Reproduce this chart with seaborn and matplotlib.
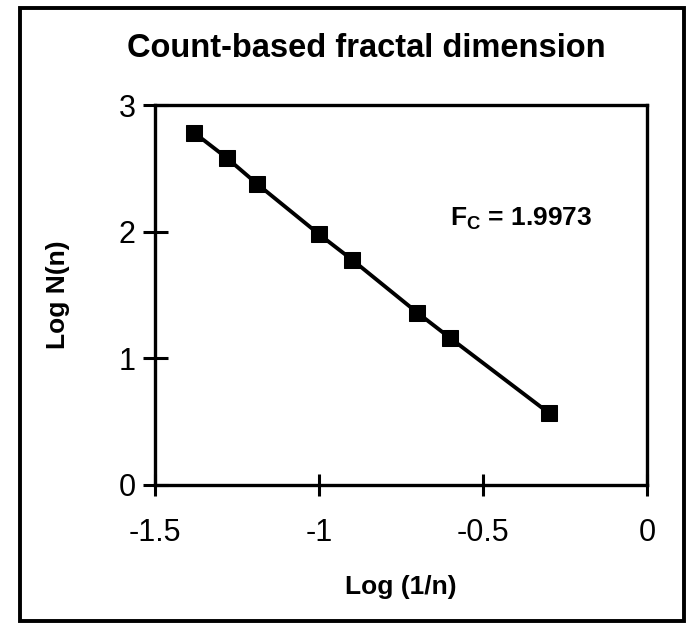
import matplotlib
matplotlib.use("Agg")
import matplotlib.pyplot as plt
import seaborn as sns
import pandas as pd
from matplotlib.patches import Rectangle

log_inv_n = [-1.38, -1.28, -1.19, -1.0, -0.9, -0.7, -0.6, -0.3]
log_N = [2.78, 2.58, 2.38, 1.98, 1.78, 1.36, 1.16, 0.57]
x_ticks = [-1.5, -1.0, -0.5, 0.0]
x_tick_labels = ["-1.5", "-1", "-0.5", "0"]
y_ticks = [0, 1, 2, 3]
y_tick_labels = ["0", "1", "2", "3"]
title = "Count-based fractal dimension"
annotation = r"F$_\mathbf{C}$ = 1.9973"

sns.set_style("white")
plt.rcParams['font.family'] = ['Liberation Sans', 'DejaVu Sans']
plt.rcParams['text.color'] = 'black'
plt.rcParams['axes.labelcolor'] = 'black'
plt.rcParams['mathtext.fontset'] = 'custom'
plt.rcParams['mathtext.rm'] = 'Liberation Sans'
plt.rcParams['mathtext.bf'] = 'Liberation Sans:bold'

df = pd.DataFrame({"x": log_inv_n, "y": log_N})

fig = plt.figure(figsize=(6.87, 6.24), dpi=100)
ax = fig.add_axes([0.2256, 0.2228, 0.7162, 0.6089])

sns.lineplot(data=df, x="x", y="y", ax=ax, color="black", linewidth=2.8,
             marker="s", markersize=11, markeredgecolor="black",
             markerfacecolor="black")

ax.set_xlim(-1.5, 0)
ax.set_ylim(0, 3)
ax.set_xticks(x_ticks)
ax.set_xticklabels(x_tick_labels)
ax.set_yticks(y_ticks)
ax.set_yticklabels(y_tick_labels)
for s in ax.spines.values():
    s.set_visible(True)
    s.set_color("black")
    s.set_linewidth(2.4)
ax.tick_params(axis="x", bottom=True, direction="inout", length=16, width=2.2,
               labelsize=22, pad=16, colors="black")
ax.tick_params(axis="y", left=True, direction="inout", length=18, width=2.2,
               labelsize=22, pad=5, colors="black")
ax.set_xlabel("Log (1/n)", fontsize=19, fontweight="bold", labelpad=19)
ax.set_ylabel("Log N(n)", fontsize=19, fontweight="bold", labelpad=35)

ax.text(0.60, 0.70, annotation, transform=ax.transAxes, fontsize=19,
        fontweight="bold", ha="left", va="center")

fig.text(0.533, 0.922, title, fontsize=23.5, fontweight="bold",
         ha="center", va="center")

fig.patches.append(Rectangle((20/687, 1-621/624), 664/687, 613/624,
                             transform=fig.transFigure, fill=False,
                             edgecolor="black", linewidth=2.8))

fig.savefig("out.png", dpi=100, facecolor="white")
